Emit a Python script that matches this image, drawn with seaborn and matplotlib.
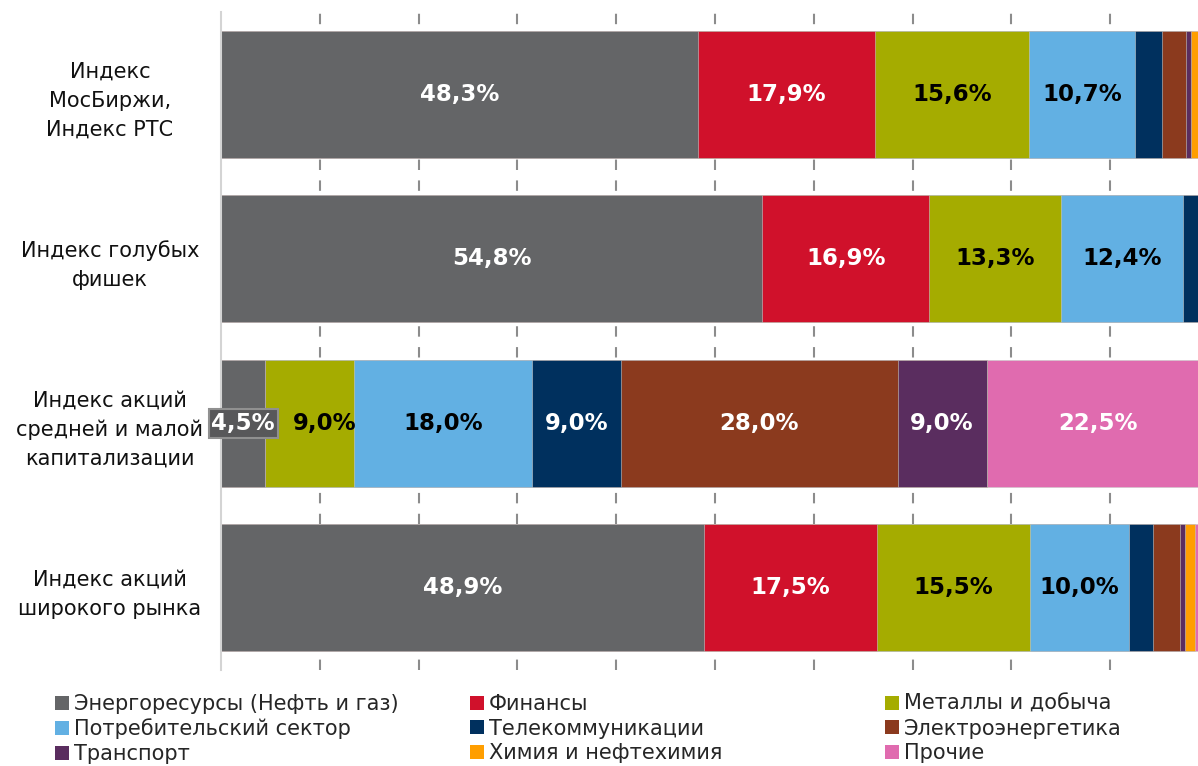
import matplotlib
matplotlib.use("Agg")
import matplotlib.pyplot as plt
from matplotlib.patches import Patch
import pandas as pd
import seaborn as sns

# index names (rows) and sector names (stack order)
indices = ["Индекс\nМосБиржи,\nИндекс РТС", "Индекс голубых\nфишек",
           "Индекс акций\nсредней и малой\nкапитализации", "Индекс акций\nширокого рынка"]
sectors = ["Энергоресурсы (Нефть и газ)", "Финансы", "Металлы и добыча",
           "Потребительский сектор", "Телекоммуникации", "Электроэнергетика",
           "Транспорт", "Химия и нефтехимия", "Прочие"]
colors = ["#646567", "#D0112B", "#A5AC00", "#62B0E3", "#00305E",
          "#8B3A1E", "#5A2D5F", "#FF9E00", "#E06BAF"]
label_dark = [False, False, True, True, False, False, False, False, False]

# shares, %, one list per index in sector order
moex = [48.3, 17.9, 15.6, 10.7, 2.8, 2.4, 0.5, 1.2, 0.0]
bluechip = [54.8, 16.9, 13.3, 12.4, 2.6, 0.0, 0.0, 0.0, 0.0]
smallmid = [4.5, 0.0, 9.0, 18.0, 9.0, 28.0, 9.0, 0.0, 22.5]
broad = [48.9, 17.5, 15.5, 10.0, 2.4, 2.8, 0.5, 1.0, 0.4]

rows = []
for name, vals in zip(indices, [moex, bluechip, smallmid, broad]):
    cum = 0.0
    for sec, v in zip(sectors, vals):
        cum += v
        rows.append({"index": name, "sector": sec, "value": v, "cum": cum})
df = pd.DataFrame(rows)

sns.set_style("white")
plt.rcParams["font.family"] = ["DejaVu Sans"]

fig = plt.figure(figsize=(11.98, 7.66), dpi=100)
ax = fig.add_axes([221 / 1198, 1 - 670 / 766, 977 / 1198, 658 / 766])

# stacked bars: draw cumulative totals from the last sector to the first
for sec, col in reversed(list(zip(sectors, colors))):
    sub = df[df["sector"] == sec]
    sns.barplot(data=sub, x="cum", y="index", order=indices, color=col,
                width=0.77, orient="h", ax=ax, edgecolor="#c8c8c8",
                linewidth=0.4, saturation=1)

# value labels
for i, name in enumerate(indices):
    sub = df[df["index"] == name]
    nudge = 0.0
    for (_, r), dark in zip(sub.iterrows(), label_dark):
        if r["value"] < 4:
            continue
        txt = f"{r['value']:.1f}%".replace(".", ",")
        kw = {}
        if r["value"] < 5:
            kw["bbox"] = dict(boxstyle="square,pad=0.12", facecolor="#58585a",
                              edgecolor="#909090", linewidth=1.5)
        ax.text(r["cum"] - r["value"] / 2 + nudge, i, txt, ha="center",
                va="center", fontsize=16.5, fontweight="bold",
                color="black" if dark else "white", **kw)
        # the label after a boxed one is pushed right to avoid overlap
        nudge = 1.5 if "bbox" in kw else 0.0

ax.set_xlim(0, 98.9)
ax.set_ylim(3.5, -0.5)
ax.set_xticks(range(10, 100, 10))
ax.set_xticklabels([])
ax.tick_params(axis="x", length=0)
ax.grid(axis="x", color="#8c8c8c", linestyle=(0, (5, 5)), linewidth=1.5)
ax.set_axisbelow(True)
ax.set_xlabel("")
ax.set_ylabel("")
for s in ["top", "right", "bottom"]:
    ax.spines[s].set_visible(False)
ax.spines["left"].set_color("#d4d4d4")
ax.spines["left"].set_linewidth(1.5)

ax.set_yticks(range(len(indices)))
ax.set_yticklabels(indices, fontsize=15, ha="center", linespacing=1.55,
                   color="#111111")
ax.tick_params(axis="y", length=0, pad=80)

# legend: three columns placed separately, row-major order as in the source
col_x = [55, 470, 885]
for c in range(3):
    idx = [c, c + 3, c + 6]
    handles = [Patch(facecolor=colors[k], edgecolor="none") for k in idx]
    labels = [sectors[k] for k in idx]
    fig.legend(handles, labels, loc="upper left",
               bbox_to_anchor=(col_x[c] / 1198, 1 - 694 / 766),
               frameon=False, fontsize=15, handlelength=0.65, handleheight=0.65,
               handletextpad=0.25, labelspacing=0.22, borderpad=0,
               borderaxespad=0)

fig.savefig("out.png", dpi=100)
